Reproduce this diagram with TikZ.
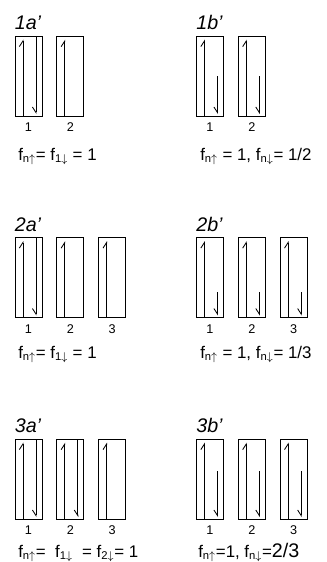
\documentclass[tikz,border=0pt]{standalone}
\usepackage{fontspec}
\setmainfont{Liberation Sans}
\usetikzlibrary{positioning,calc,arrows.meta}

\newcommand{\upspin}[1]{%
  \draw[upspin] ($(#1.south west)!0.3!(#1.south east)$)
    -- ([yshift=-1mm]$(#1.north west)!0.3!(#1.north east)$);}
\newcommand{\dnspin}[2]{%
  \coordinate (#1-lo) at ($(#1.south west)!0.77!(#1.south east)$);
  \draw[dnspin] ([yshift=#2*20mm]#1-lo) -- ([yshift=0.6mm]#1-lo);}

\begin{document}
\begin{tikzpicture}[
  x=0.25mm,
  y=-0.25mm,
  cell/.style={draw, line width=0.6pt, minimum width=6.75mm, minimum height=20mm, inner sep=0pt},
  upspin/.style={line width=0.6pt, -{Straight Barb[harpoon, length=1.4mm, width=1.8mm]}},
  dnspin/.style={line width=0.6pt, -{Straight Barb[harpoon, swap, length=1.4mm, width=1.8mm]}},
  num/.style={font=\fontsize{9}{9}\selectfont, inner sep=0pt},
  tag/.style={font=\fontsize{14}{14}\selectfont\itshape, anchor=base west, inner sep=0pt},
  occ/.style={font=\fontsize{12}{14}\selectfont, anchor=base west, inner sep=0pt}
]
  \useasboundingbox (0,0) rectangle (326,562);

  % orbital boxes
  \node[cell] (a1) at (28.5,76) {};
  \node[cell, right=3.5mm of a1] (a2) {};
  \node[cell] (b1) at (210,76) {};
  \node[cell, right=3.5mm of b1] (b2) {};
  \node[cell] (c1) at (28.5,277.5) {};
  \node[cell, right=3.5mm of c1] (c2) {};
  \node[cell, right=3.5mm of c2] (c3) {};
  \node[cell] (d1) at (210,277.5) {};
  \node[cell, right=3.5mm of d1] (d2) {};
  \node[cell, right=3.5mm of d2] (d3) {};
  \node[cell] (e1) at (28.5,479) {};
  \node[cell, right=3.5mm of e1] (e2) {};
  \node[cell, right=3.5mm of e2] (e3) {};
  \node[cell] (f1) at (210,479) {};
  \node[cell, right=3.5mm of f1] (f2) {};
  \node[cell, right=3.5mm of f2] (f3) {};

  % spins
  \foreach \b in {a1,a2,b1,b2,c1,c2,c3,d1,d2,d3,e1,e2,e3,f1,f2,f3}
    \upspin{\b};
  \foreach \b/\f in {a1/1,c1/1,e1/1,e2/1,b1/0.5,b2/0.5,d1/0.32,d2/0.32,d3/0.32,f1/0.6,f2/0.6,f3/0.6}
    \dnspin{\b}{\f};

  % site numbers
  \foreach \b/\t in {a1/1,a2/2,b1/1,b2/2,c1/1,c2/2,c3/3,d1/1,d2/2,d3/3,e1/1,e2/2,e3/3,f1/1,f2/2,f3/3}
    \node[num, below=1.6mm of \b] (\b-no) {\t};

  % panel tags
  \node[tag] (ta) at ([yshift=1.5mm]a1.north west) {1a'};
  \node[tag] (tb) at ([yshift=1.5mm]b1.north west) {1b'};
  \node[tag] (tc) at ([yshift=1.5mm]c1.north west) {2a'};
  \node[tag] (td) at ([yshift=1.5mm]d1.north west) {2b'};
  \node[tag] (te) at ([yshift=1.5mm]e1.north west) {3a'};
  \node[tag] (tf) at ([yshift=1.5mm]f1.north west) {3b'};

  % occupations
  \node[occ] (fa) at (18,160) {f\textsubscript{n$\uparrow$}= f\textsubscript{1$\downarrow$} = 1};
  \node[occ] (fb) at (200,160) {f\textsubscript{n$\uparrow$} = 1, f\textsubscript{n$\downarrow$}= 1/2};
  \node[occ] (fc) at (18,358) {f\textsubscript{n$\uparrow$}= f\textsubscript{1$\downarrow$} = 1};
  \node[occ] (fd) at (200,358) {f\textsubscript{n$\uparrow$} = 1, f\textsubscript{n$\downarrow$}= 1/3};
  \node[occ] (fe) at (18,557) {f\textsubscript{n$\uparrow$}= \ f\textsubscript{1$\downarrow$} \ = f\textsubscript{2$\downarrow$}= 1};
  \node[occ] (ff) at (198,557) {f\textsubscript{n$\uparrow$}=1, f\textsubscript{n$\downarrow$}={\fontsize{14}{14}\selectfont 2/3}};
\end{tikzpicture}
\end{document}
